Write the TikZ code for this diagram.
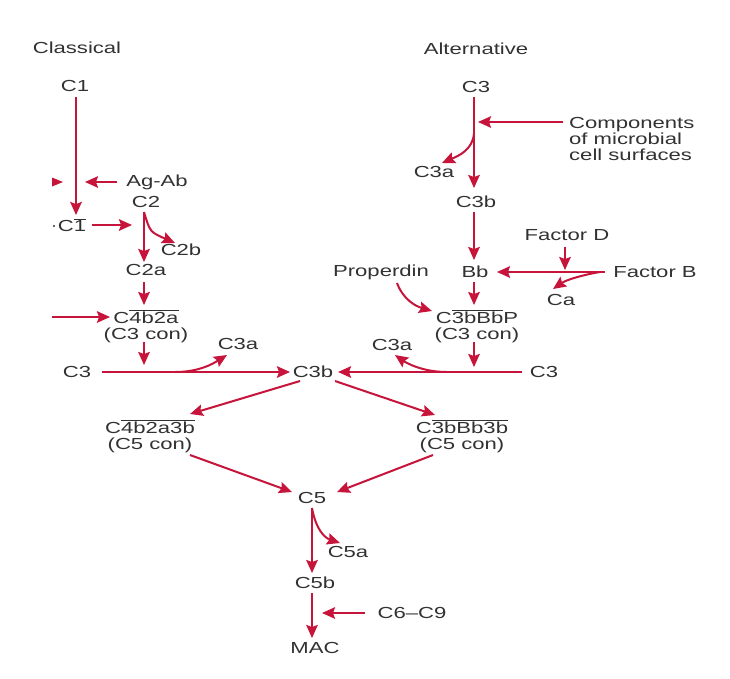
\documentclass[tikz,border=0pt]{standalone}
\usepackage{fontspec}
\setmainfont[FakeStretch=1.38]{Liberation Sans}
\usetikzlibrary{arrows.meta}
\definecolor{pathred}{RGB}{198,20,58}
\definecolor{txt}{RGB}{50,50,50}
\newcommand\ovl[1]{$\overline{\hbox{#1}}$}
\begin{document}
\begin{tikzpicture}[x=1pt,y=-1pt,
  lbl/.style={text=txt,inner sep=1pt,font=\fontsize{16}{16}\selectfont},
  two/.style={lbl,align=center,inner sep=0pt},
  arr/.style={draw=pathred,line width=2pt,-{Stealth[length=13pt,width=11.5pt,inset=2pt]}}]
\fill[white] (0,0) rectangle (730,678);
\useasboundingbox (0,0) rectangle (730,678);
% ---- nodes ----
\node[lbl] (classical) at (77,48) {Classical};
\node[lbl] (alternative) at (476,49) {Alternative};
\node[lbl] (c1) at (75,86) {C1};
\node[lbl] (agab) at (157,182) {Ag-Ab};
\node[lbl] (c2) at (146,202) {C2};
\node[lbl] (c1bar) at (72,225) {C\ovl{1}};
\node[lbl] (c2b) at (181,250) {C2b};
\node[lbl] (c2a) at (146,270) {C2a};
\node[two,anchor=base] (c4b2a) at (146,339) {C\ovl{4b2a}\\(C3 con)};
\node[lbl] (c3L) at (77,372) {C3};
\node[lbl] (c3aL) at (238,344) {C3a};
\node[lbl] (c3bC) at (313,372) {C3b};
\node[lbl] (c3top) at (476,87) {C3};
\node[lbl,anchor=west,align=left] (comp) at (568,139) {Components\\of microbial\\cell surfaces};
\node[lbl] (c3aTop) at (434,172) {C3a};
\node[lbl] (c3bTop) at (476,202) {C3b};
\node[lbl] (factorD) at (567,235) {Factor D};
\node[lbl] (bb) at (475,272) {Bb};
\node[lbl] (factorB) at (655,272) {Factor B};
\node[lbl] (ca) at (561,300) {Ca};
\node[lbl] (properdin) at (381,272) {Properdin};
\node[two,anchor=base] (c3bbbp) at (477,339) {C\ovl{3bBb}P\\(C3 con)};
\node[lbl] (c3aR) at (392,345) {C3a};
\node[lbl] (c3R) at (544,372) {C3};
\node[two,anchor=base] (c5conL) at (150,449) {C\ovl{4b2a3b}\\(C5 con)};
\node[two,anchor=base] (c5conR) at (462,449) {C\ovl{3bBb3b}\\(C5 con)};
\node[lbl] (c5) at (312,498) {C5};
\node[lbl] (c5a) at (348,552) {C5a};
\node[lbl] (c5b) at (315,583) {C5b};
\node[lbl] (c6c9) at (412,613) {C6--C9};
\node[lbl] (mac) at (315,648) {MAC};
% ---- junction / end coordinates ----
\coordinate (c1s) at (76,97);
\coordinate (c1e) at (76,215);
\coordinate (agabs) at (117,182);
\coordinate (agabe) at (85,182);
\coordinate (c1bs) at (92,225);
\coordinate (c1be) at (132,225);
\coordinate (c2s) at (144,212);
\coordinate (c2e) at (144,262);
\coordinate (c2be) at (175,243);
\coordinate (c2as) at (144,282);
\coordinate (c2ae) at (144,305);
\coordinate (lin) at (52,317);
\coordinate (line4) at (110,317);
\coordinate (cc1s) at (144,342);
\coordinate (cc1e) at (144,365);
\coordinate (hL) at (102,372);
\coordinate (hLe) at (290,372);
\coordinate (brL) at (175,372);
\coordinate (brLe) at (227,355);
\coordinate (t3s) at (474,97);
\coordinate (t3e) at (474,188);
\coordinate (comps) at (563,122);
\coordinate (compe) at (478,122);
\coordinate (brT) at (474,133);
\coordinate (brTe) at (442,163);
\coordinate (t3bs) at (474,212);
\coordinate (t3be) at (474,260);
\coordinate (fds) at (565,247);
\coordinate (fde) at (565,270);
\coordinate (fbs) at (605,272);
\coordinate (fbe) at (497,272);
\coordinate (cas) at (600,272);
\coordinate (cae) at (553,289);
\coordinate (prs) at (397,283);
\coordinate (pre) at (432,311);
\coordinate (bbs) at (474,282);
\coordinate (bbe) at (474,305);
\coordinate (cc2s) at (474,342);
\coordinate (cc2e) at (474,367);
\coordinate (hR) at (522,372);
\coordinate (hRe) at (338,372);
\coordinate (brR) at (447,372);
\coordinate (brRe) at (395,355);
\coordinate (dls) at (300,381);
\coordinate (dle) at (190,414);
\coordinate (drs) at (335,381);
\coordinate (dre) at (435,415);
\coordinate (uls) at (190,455);
\coordinate (ule) at (292,492);
\coordinate (urs) at (433,455);
\coordinate (ure) at (337,492);
\coordinate (c5s) at (312,508);
\coordinate (c5e) at (312,573);
\coordinate (c5ae) at (340,543);
\coordinate (c5bs) at (312,593);
\coordinate (c5be) at (312,638);
\coordinate (c69s) at (365,613);
\coordinate (c69e) at (322,613);
% ---- connectors ----
\draw[arr] (c1s) -- (c1e);
\fill[pathred] (52,177.5) -- (63,182) -- (52,186.5) -- cycle;
\draw[arr] (agabs) -- (agabe);
\fill[txt] (54,226) circle (1.1);
\draw[arr] (c1bs) -- (c1be);
\draw[arr] (c2s) -- (c2e);
\draw[arr] (c2s) .. controls (150,232) .. (c2be);
\draw[arr] (c2as) -- (c2ae);
\draw[arr] (lin) -- (line4);
\draw[arr] (cc1s) -- (cc1e);
\draw[arr] (hL) -- (hLe);
\draw[arr] (brL) .. controls (200,372) and (214,363) .. (brLe);
\draw[arr] (t3s) -- (t3e);
\draw[arr] (comps) -- (compe);
\draw[arr] (brT) .. controls (473,150) and (458,156) .. (brTe);
\draw[arr] (t3bs) -- (t3be);
\draw[arr] (fds) -- (fde);
\draw[arr] (fbs) -- (fbe);
\draw[arr] (cas) .. controls (582,275) and (566,280) .. (cae);
\draw[arr] (prs) .. controls (403,299) and (415,306) .. (pre);
\draw[arr] (bbs) -- (bbe);
\draw[arr] (cc2s) -- (cc2e);
\draw[arr] (hR) -- (hRe);
\draw[arr] (brR) .. controls (424,372) and (408,364) .. (brRe);
\draw[arr] (dls) -- (dle);
\draw[arr] (drs) -- (dre);
\draw[arr] (uls) -- (ule);
\draw[arr] (urs) -- (ure);
\draw[arr] (c5s) -- (c5e);
\draw[arr] (c5s) .. controls (316,530) and (325,538) .. (c5ae);
\draw[arr] (c5bs) -- (c5be);
\draw[arr] (c69s) -- (c69e);
\end{tikzpicture}
\end{document}
